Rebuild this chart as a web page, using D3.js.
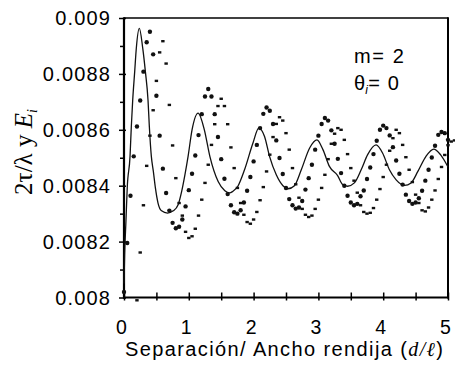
<!DOCTYPE html>
<html>
<head>
<meta charset="utf-8">
<script src="https://cdn.jsdelivr.net/npm/d3@7"></script>
<style>
  html, body { margin: 0; padding: 0; background: #fff; }
  svg { display: block; }
</style>
</head>
<body>
<svg id="chart" width="455" height="365"></svg>
<script>
// ---- data ----
const xTicks = [0, 1, 2, 3, 4, 5];
const xMinorTicks = [0, 0.5, 1, 1.5, 2, 2.5, 3, 3.5, 4, 4.5, 5];
const yTicks = [0.008, 0.0082, 0.0084, 0.0086, 0.0088, 0.009];
const yTickLabels = ["0.008", "0.0082", "0.0084", "0.0086", "0.0088", "0.009"];
const yMinorTicks = [0.0081, 0.0083, 0.0085, 0.0087, 0.0089];

// solid curve (x, y)
const lineX = [0, 0.01, 0.03, 0.05, 0.093, 0.113, 0.134, 0.165, 0.19, 0.237, 0.289, 0.33, 0.371, 0.391, 0.422, 0.453, 0.484, 0.525, 0.58, 0.67, 0.76, 0.835, 0.89, 0.94, 0.989, 1.05, 1.144, 1.24, 1.325, 1.453, 1.556, 1.63, 1.68, 1.757, 1.86, 1.989, 2.08, 2.169, 2.246, 2.35, 2.453, 2.53, 2.63, 2.736, 2.865, 2.978, 3.07, 3.17, 3.297, 3.374, 3.45, 3.555, 3.66, 3.76, 3.89, 3.99, 4.096, 4.2, 4.33, 4.43, 4.535, 4.66, 4.78, 4.884, 5.0];
const lineY = [0.00805, 0.008154, 0.008273, 0.008393, 0.008505, 0.008612, 0.008705, 0.008808, 0.008892, 0.008963, 0.008892, 0.008808, 0.008705, 0.008612, 0.008505, 0.008451, 0.008393, 0.008338, 0.00831, 0.008302, 0.00831, 0.008332, 0.00838, 0.008439, 0.008505, 0.0086, 0.00866, 0.0086, 0.008505, 0.008415, 0.008382, 0.008374, 0.00838, 0.008398, 0.008457, 0.008552, 0.008606, 0.008576, 0.008505, 0.008439, 0.0084, 0.008389, 0.0084, 0.008457, 0.008535, 0.008564, 0.008529, 0.008469, 0.008436, 0.008404, 0.008398, 0.00841, 0.008457, 0.008511, 0.008546, 0.008517, 0.008457, 0.008421, 0.008401, 0.00841, 0.008451, 0.008505, 0.008531, 0.008511, 0.008467];

// circle markers, x = 0, 0.05, ..., 5.0
const circleX = [0, 0.05, 0.1, 0.15, 0.2, 0.25, 0.3, 0.35, 0.4, 0.45, 0.5, 0.55, 0.6, 0.65, 0.7, 0.75, 0.8, 0.85, 0.9, 0.95, 1.0, 1.05, 1.1, 1.15, 1.2, 1.25, 1.3, 1.35, 1.4, 1.45, 1.5, 1.55, 1.6, 1.65, 1.7, 1.75, 1.8, 1.85, 1.9, 1.95, 2.0, 2.05, 2.1, 2.15, 2.2, 2.25, 2.3, 2.35, 2.4, 2.45, 2.5, 2.55, 2.6, 2.65, 2.7, 2.75, 2.8, 2.85, 2.9, 2.95, 3.0, 3.05, 3.1, 3.15, 3.2, 3.25, 3.3, 3.35, 3.4, 3.45, 3.5, 3.55, 3.6, 3.65, 3.7, 3.75, 3.8, 3.85, 3.9, 3.95, 4.0, 4.05, 4.1, 4.15, 4.2, 4.25, 4.3, 4.35, 4.4, 4.45, 4.5, 4.55, 4.6, 4.65, 4.7, 4.75, 4.8, 4.85, 4.9, 4.95, 5.0];
const circleY = [0.00802, 0.008195, 0.008364, 0.008505, 0.008612, 0.008705, 0.008808, 0.008913, 0.008951, 0.00887, 0.008722, 0.008579, 0.008461, 0.008374, 0.008311, 0.008267, 0.008248, 0.008253, 0.008279, 0.008326, 0.008384, 0.008443, 0.008508, 0.008581, 0.008656, 0.008719, 0.008746, 0.008719, 0.008656, 0.008574, 0.008495, 0.008425, 0.00837, 0.00833, 0.008305, 0.0083, 0.008312, 0.00834, 0.008382, 0.008431, 0.008487, 0.008546, 0.008606, 0.008657, 0.00868, 0.008668, 0.008621, 0.008562, 0.008499, 0.008442, 0.008392, 0.008352, 0.00833, 0.008318, 0.008322, 0.008345, 0.008386, 0.008427, 0.008475, 0.008529, 0.008579, 0.008621, 0.008642, 0.008633, 0.008598, 0.00855, 0.008496, 0.008445, 0.0084, 0.008364, 0.00834, 0.00833, 0.008335, 0.008362, 0.008383, 0.008424, 0.008465, 0.008513, 0.008561, 0.0086, 0.008615, 0.008606, 0.00858, 0.008538, 0.00849, 0.008443, 0.008404, 0.008368, 0.008345, 0.008335, 0.00834, 0.008355, 0.008382, 0.008418, 0.008457, 0.008501, 0.008543, 0.008582, 0.008592, 0.008588, 0.008564];

// dash markers, x = 0.2, 0.25, ..., 5.1
const dashX = [0.2, 0.25, 0.3, 0.35, 0.4, 0.45, 0.5, 0.55, 0.6, 0.65, 0.7, 0.75, 0.8, 0.85, 0.9, 0.95, 1.0, 1.05, 1.1, 1.15, 1.2, 1.25, 1.3, 1.35, 1.4, 1.45, 1.5, 1.55, 1.6, 1.65, 1.7, 1.75, 1.8, 1.85, 1.9, 1.95, 2.0, 2.05, 2.1, 2.15, 2.2, 2.25, 2.3, 2.35, 2.4, 2.45, 2.5, 2.55, 2.6, 2.65, 2.7, 2.75, 2.8, 2.85, 2.9, 2.95, 3.0, 3.05, 3.1, 3.15, 3.2, 3.25, 3.3, 3.35, 3.4, 3.45, 3.5, 3.55, 3.6, 3.65, 3.7, 3.75, 3.8, 3.85, 3.9, 3.95, 4.0, 4.05, 4.1, 4.15, 4.2, 4.25, 4.3, 4.35, 4.4, 4.45, 4.5, 4.55, 4.6, 4.65, 4.7, 4.75, 4.8, 4.85, 4.9, 4.95, 5.0, 5.05, 5.1];
const dashY = [0.00799, 0.008161, 0.00833, 0.008471, 0.008579, 0.00867, 0.008775, 0.008877, 0.008917, 0.008837, 0.008689, 0.008544, 0.008427, 0.008338, 0.008293, 0.008235, 0.008213, 0.008219, 0.008246, 0.008293, 0.00835, 0.00841, 0.008475, 0.008546, 0.00862, 0.008685, 0.008711, 0.008685, 0.00862, 0.008537, 0.008463, 0.008392, 0.008338, 0.008296, 0.00827, 0.008264, 0.008279, 0.008306, 0.008348, 0.008395, 0.008451, 0.008511, 0.008574, 0.008621, 0.008645, 0.008633, 0.008588, 0.008529, 0.008463, 0.008405, 0.008357, 0.008317, 0.008296, 0.008288, 0.008293, 0.008317, 0.00835, 0.008392, 0.008439, 0.008495, 0.00855, 0.008586, 0.008606, 0.0086, 0.008564, 0.008513, 0.008463, 0.008418, 0.008375, 0.00833, 0.008306, 0.0083, 0.008303, 0.00832, 0.00835, 0.008388, 0.008431, 0.008475, 0.008525, 0.00857, 0.0086, 0.008588, 0.008546, 0.008502, 0.008457, 0.008413, 0.008368, 0.008338, 0.008312, 0.008308, 0.008322, 0.00835, 0.008383, 0.008424, 0.008467, 0.00851, 0.008545, 0.008558, 0.008562];

const legendLines = ["m= 2", "= 0"];

// ---- layout ----
const svg = d3.select("#chart");
const L = 124, R = 448, T = 18, B = 297.5;
const x = d3.scaleLinear().domain([0, 5]).range([L, R]);
const y = d3.scaleLinear().domain([0.008, 0.009]).range([B, T]);
const sans = "'Liberation Sans', Arial, Helvetica, sans-serif";
const serif = "'Liberation Serif', 'Times New Roman', serif";

// frame (top & right)
svg.append("line").attr("x1", L).attr("x2", R).attr("y1", T).attr("y2", T)
  .attr("stroke", "#000").attr("stroke-width", 1.5);
svg.append("line").attr("x1", R).attr("x2", R).attr("y1", T - 0.7).attr("y2", B + 1)
  .attr("stroke", "#000").attr("stroke-width", 2);

// x axis
const xAxisG = svg.append("g").attr("transform", `translate(0,${B})`)
  .call(d3.axisBottom(x).tickValues(xMinorTicks).tickSize(3).tickFormat(""));
xAxisG.select(".domain").remove();
xAxisG.selectAll(".tick line").attr("y1", -5).attr("y2", 3).attr("stroke", "#000").attr("stroke-width", 1.5);
svg.append("line").attr("x1", L - 1).attr("x2", R + 1).attr("y1", B).attr("y2", B)
  .attr("stroke", "#000").attr("stroke-width", 2);
svg.append("g").selectAll("text").data(xTicks).join("text")
  .attr("x", d => x(d) - 2.5).attr("y", 333.5)
  .attr("text-anchor", "middle")
  .attr("font-family", sans).attr("font-size", 19.5).attr("fill", "#000")
  .text(d => d);

// y axis
const yAxisG = svg.append("g").attr("transform", `translate(${L},0)`)
  .call(d3.axisLeft(y).tickValues(yTicks).tickSize(5).tickFormat(""));
yAxisG.select(".domain").remove();
yAxisG.selectAll(".tick line").attr("x1", -5).attr("x2", 2).attr("stroke", "#000").attr("stroke-width", 1.5);
const yMinorG = svg.append("g").attr("transform", `translate(${L},0)`)
  .call(d3.axisLeft(y).tickValues(yMinorTicks).tickSize(4).tickFormat(""));
yMinorG.select(".domain").remove();
yMinorG.selectAll(".tick line").attr("stroke", "#000").attr("stroke-width", 1.5);
svg.append("line").attr("x1", L).attr("x2", L).attr("y1", T - 0.7).attr("y2", B + 1)
  .attr("stroke", "#000").attr("stroke-width", 2.2);
svg.append("g").selectAll("text").data(yTicks).join("text")
  .attr("x", 111.2).attr("y", d => y(d))
  .attr("dy", "0.36em")
  .attr("text-anchor", "end")
  .attr("letter-spacing", 1.2)
  .attr("font-family", sans).attr("font-size", 20).attr("fill", "#000")
  .text((d, i) => yTickLabels[i]);

// curve
const lineData = lineX.map((v, i) => [v, lineY[i]]);
svg.append("path").datum(lineData)
  .attr("fill", "none").attr("stroke", "#111").attr("stroke-width", 1.3)
  .attr("d", d3.line().x(d => x(d[0])).y(d => y(d[1])).curve(d3.curveMonotoneX));

// circles
const circleData = circleX.map((v, i) => [v, circleY[i]]);
svg.append("g").selectAll("circle").data(circleData).join("circle")
  .attr("cx", d => x(d[0])).attr("cy", d => y(d[1])).attr("r", 2.2)
  .attr("fill", "#111");

// dashes
const dashData = dashX.map((v, i) => [v, dashY[i]]);
svg.append("g").selectAll("rect").data(dashData).join("rect")
  .attr("x", d => x(d[0]) - 1.7).attr("y", d => y(d[1]) - 1.2)
  .attr("width", 3.4).attr("height", 2.4)
  .attr("fill", "#111");

// legend
svg.append("text").attr("x", 354).attr("y", 63)
  .attr("font-family", sans).attr("font-size", 20).attr("fill", "#000")
  .attr("letter-spacing", 1.6)
  .text(legendLines[0]);
const t2 = svg.append("text").attr("x", 354).attr("y", 89.5)
  .attr("font-family", sans).attr("font-size", 20).attr("fill", "#000")
  .attr("letter-spacing", 1.2);
t2.append("tspan").text("θ");
t2.append("tspan").attr("font-size", 12).attr("font-style", "italic").attr("dy", 4).attr("dx", -1).text("i");
t2.append("tspan").attr("dy", -4).attr("dx", -1).text(legendLines[1]);

// x axis title
const xt = svg.append("text").attr("x", 125).attr("y", 356)
  .attr("font-family", sans).attr("font-size", 20).attr("fill", "#000");
xt.append("tspan").text("Separación/ Ancho rendija (");
xt.append("tspan").attr("font-family", serif).attr("font-style", "italic").text("d/ℓ");
xt.append("tspan").text(")");
// widen spacing so the title spans the same width as in the reference (125..443)
{
  const w = xt.node().getComputedTextLength();
  const n = xt.text().length;
  const ls = Math.max(0, (318 - w) / (n - 1));
  xt.attr("letter-spacing", ls);
}

// y axis title
const yt = svg.append("text")
  .attr("transform", "translate(32,152) rotate(-90)")
  .attr("text-anchor", "middle")
  .attr("font-family", serif).attr("font-size", 25).attr("fill", "#000");
yt.append("tspan").text("2τ/λ y ");
yt.append("tspan").attr("font-style", "italic").text("E");
yt.append("tspan").attr("font-style", "italic").attr("font-size", 14).attr("dy", 5).text("i");
</script>
</body>
</html>
